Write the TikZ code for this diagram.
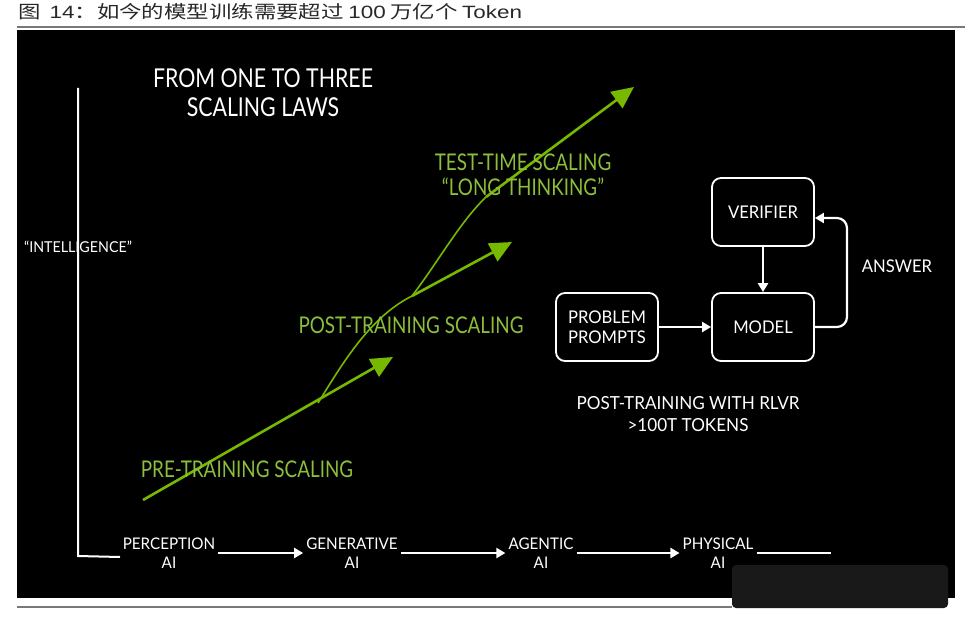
\documentclass[tikz,border=0pt]{standalone}
\usepackage{fontspec}
\setmainfont{Lato}
\newfontfamily\hand[FakeStretch=0.82]{Lato}
\newfontfamily\handw[FakeStretch=0.95]{Lato}
\newfontfamily\cjk[FakeStretch=1.26]{Noto Sans CJK SC}
\newfontfamily\arialf[FakeStretch=1.26]{Liberation Sans}
\usetikzlibrary{arrows.meta}
\definecolor{nvgreen}{RGB}{118,185,0}
\definecolor{lblgreen}{RGB}{140,190,60}
\definecolor{rulegray}{RGB}{120,120,120}
\definecolor{titlegray}{RGB}{40,40,40}
\begin{document}
\begin{tikzpicture}[x=1pt,y=-1pt,
  hw/.style={text=white,font=\handw\fontsize{17.5}{21}\selectfont,align=center,inner sep=2pt},
  glabel/.style={text=lblgreen,font=\hand\fontsize{23}{25}\selectfont,align=center,inner sep=1pt},
  bigtitle/.style={text=white,font=\hand\fontsize{26}{29}\selectfont,align=center},
  flowbox/.style={draw=white,line width=1.8pt,rounded corners=9pt,minimum width=102pt,minimum height=68pt,text=white,font=\handw\fontsize{17.5}{20}\selectfont,align=center},
  stage/.style={text=white,font=\handw\fontsize{16}{19}\selectfont,align=center,inner sep=3pt},
  warrow/.style={draw=white,line width=2.2pt,-{Triangle[length=9pt,width=10pt]}},
  wline/.style={draw=white,line width=1.8pt},
  shaft/.style={draw=nvgreen,line width=2.6pt,-{Triangle[length=22pt,width=20pt]}},
  riser/.style={draw=nvgreen,line width=1.6pt}
]
\useasboundingbox (0,0) rectangle (965,620);
\fill[white] (0,0) rectangle (965,620);
\fill[black] (17,30) rectangle (955,598);
\draw[rulegray,line width=2pt] (17,27) -- (965,27);
\draw[rulegray,line width=2pt] (17,607) -- (732,607);
\fill[black!90!white,rounded corners=4pt] (732,565) rectangle (948,608);

% title
\node[anchor=west,inner sep=0pt,text=titlegray,font=\fontsize{17.8}{20}\selectfont] (title) at (18,12)
  {{\cjk 图}\ \ {\arialf 14}{\cjk ：如今的模型训练需要超过}\ {\arialf 100}\ {\cjk 万亿个}\ {\arialf Token}};

% axes
\coordinate (ytop) at (78,88);
\coordinate (corner) at (78,556);
\coordinate (xend) at (120,557);
\draw[wline,line width=2pt] (ytop) -- (corner) -- (xend);
\node[hw,font=\handw\fontsize{15}{17}\selectfont] (intel) at (78,247) {“INTELLIGENCE”};

\node[bigtitle] (head) at (263,93) {FROM ONE TO THREE\\SCALING LAWS};

% green curves
\coordinate (p0) at (143,500);
\coordinate (b1) at (318,403);
\coordinate (t1) at (393,357);
\coordinate (b2) at (412,296);
\coordinate (t2) at (512,242);
\coordinate (m3) at (486,197);
\coordinate (t3) at (634,87);
\draw[shaft] (p0) -- (t1);
\draw[riser] (b1) .. controls (340,368) and (368,318) .. (b2);
\draw[shaft] (b2) -- (t2);
\draw[riser] (b2) .. controls (438,262) and (460,222) .. (m3);
\draw[shaft] (m3) -- (t3);

\node[glabel] (pre) at (247,469) {PRE-TRAINING SCALING};
\node[glabel] (post) at (411,325) {POST-TRAINING SCALING};
\node[glabel] (test) at (523,175) {TEST-TIME SCALING\\“LONG THINKING”};

% RLVR loop
\node[flowbox] (verifier) at (763,212) {VERIFIER};
\node[flowbox] (model) at (763,327) {MODEL};
\node[flowbox] (prompts) at (607,327) {PROBLEM\\PROMPTS};
\draw[warrow] (verifier) -- (model);
\draw[warrow] (prompts) -- (model);
\draw[warrow,rounded corners=10pt] (model.east) -- (847,327) -- (847,218) -- (verifier.east |- 0,218);
\node[hw] (answer) at (897,266) {ANSWER};
\node[hw,font=\handw\fontsize{18}{22}\selectfont] (rlvr) at (688,414) {POST-TRAINING WITH RLVR\\>100T TOKENS};

% stages
\node[stage] (perc) at (169,553) {PERCEPTION\\AI};
\node[stage] (gen) at (352,553) {GENERATIVE\\AI};
\node[stage] (agent) at (541,553) {AGENTIC\\AI};
\node[stage] (phys) at (718,553) {PHYSICAL\\AI};
\coordinate (tail) at (831,553);
\draw[warrow] (perc) -- (gen);
\draw[warrow] (gen) -- (agent);
\draw[warrow] (agent) -- (phys);
\draw[wline,line width=2.2pt] (phys) -- (tail);
\end{tikzpicture}
\end{document}
